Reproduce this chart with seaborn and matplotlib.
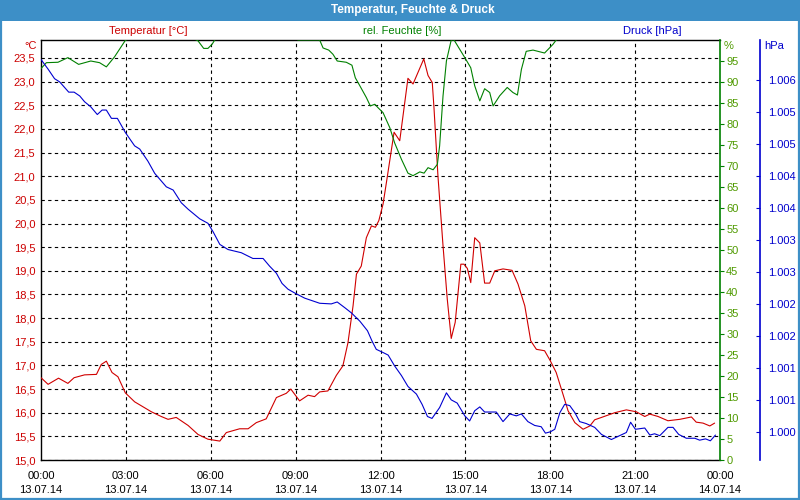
import matplotlib
matplotlib.use("Agg")
import matplotlib.pyplot as plt
import seaborn as sns
import pandas as pd
from matplotlib.patches import Rectangle

# ---------------- data ----------------
temp_hours = [0.00, 0.25, 0.62, 0.95, 1.17, 1.54, 1.96, 2.13, 2.31, 2.51, 2.72, 2.98, 3.31, 3.90,
              4.25, 4.49, 4.78, 5.20, 5.55, 5.90, 6.32, 6.55, 7.02, 7.32, 7.61, 7.96, 8.32, 8.67,
              8.83, 9.14, 9.44, 9.67, 9.85, 10.14, 10.44, 10.67, 10.85, 11.03, 11.15, 11.32, 11.50,
              11.68, 11.82, 11.94, 12.09, 12.21, 12.48, 12.68, 12.97, 13.15, 13.53, 13.68, 13.83,
              13.89, 14.03, 14.21, 14.36, 14.50, 14.64, 14.84, 14.95, 15.07, 15.19, 15.33, 15.51,
              15.68, 15.86, 16.04, 16.33, 16.65, 16.86, 17.10, 17.31, 17.51, 17.80, 18.00, 18.21,
              18.45, 18.63, 18.87, 19.16, 19.40, 19.57, 19.81, 20.28, 20.69, 21.04, 21.34, 21.52,
              21.81, 22.16, 22.58, 22.99, 23.16, 23.40, 23.64, 23.81]
temp_values = [16.74, 16.60, 16.73, 16.62, 16.74, 16.80, 16.81, 17.02, 17.09, 16.85, 16.76, 16.42,
               16.23, 16.02, 15.92, 15.86, 15.90, 15.73, 15.54, 15.44, 15.40, 15.58, 15.66, 15.66,
               15.79, 15.87, 16.32, 16.41, 16.50, 16.25, 16.37, 16.34, 16.44, 16.46, 16.79, 16.99,
               17.48, 18.26, 18.93, 19.10, 19.70, 19.95, 19.92, 20.06, 20.41, 20.87, 21.93, 21.75,
               23.07, 22.95, 23.48, 23.13, 22.98, 22.45, 21.01, 19.53, 18.40, 17.57, 17.91, 19.14,
               19.14, 19.05, 18.75, 19.70, 19.59, 18.74, 18.74, 19.00, 19.04, 19.01, 18.72, 18.26,
               17.52, 17.34, 17.31, 17.10, 16.85, 16.39, 16.04, 15.79, 15.65, 15.72, 15.85, 15.90,
               16.00, 16.06, 16.02, 15.92, 15.97, 15.92, 15.83, 15.86, 15.91, 15.80, 15.78, 15.72,
               15.78]

hum_hours = [0.00, 0.19, 0.60, 0.95, 1.33, 1.76, 2.07, 2.31, 2.60, 2.98, 3.30, 4.20, 5.20, 5.55,
             5.75, 5.90, 6.05, 6.14, 6.40, 7.50, 8.90, 9.08, 9.85, 9.97, 10.17, 10.32, 10.47,
             10.79, 10.99, 11.11, 11.27, 11.50, 11.64, 11.80, 11.91, 12.09, 12.33, 12.50, 12.74,
             12.97, 13.15, 13.39, 13.54, 13.68, 13.86, 14.01, 14.09, 14.21, 14.33, 14.50, 14.60,
             14.98, 15.19, 15.33, 15.51, 15.68, 15.86, 15.98, 16.21, 16.48, 16.68, 16.84, 16.98,
             17.15, 17.39, 17.80, 18.10, 18.21, 18.50, 21.00, 24.00]
hum_values = [93.2, 94.6, 94.7, 95.8, 94.2, 95.0, 94.6, 93.6, 96.0, 99.9, 101.0, 101.0, 101.0, 99.8,
              98.0, 98.0, 99.0, 100.0, 101.0, 101.0, 101.0, 100.0, 100.0, 98.1, 97.6, 96.6, 95.0,
              94.7, 94.0, 91.0, 89.1, 86.3, 84.3, 84.7, 83.9, 82.7, 79.1, 75.5, 71.6, 68.3, 67.7,
              68.6, 68.3, 69.6, 69.1, 70.4, 74.8, 86.7, 95.0, 100.0, 100.0, 95.8, 93.4, 89.1, 85.5,
              88.4, 87.5, 84.3, 86.7, 88.7, 87.5, 86.9, 93.0, 97.3, 97.6, 96.9, 99.0, 100.0, 101.0,
              101.0, 101.0]

pres_hours = [0.00, 0.25, 0.48, 0.66, 0.98, 1.17, 1.37, 1.54, 1.76, 1.99, 2.16, 2.31, 2.49, 2.70,
              2.98, 3.31, 3.49, 3.78, 4.02, 4.43, 4.67, 4.96, 5.20, 5.61, 5.90, 6.08, 6.32, 6.61,
              7.08, 7.49, 7.85, 8.08, 8.32, 8.52, 8.73, 8.97, 9.32, 9.85, 10.26, 10.47, 10.74,
              10.97, 11.27, 11.54, 11.70, 11.85, 12.09, 12.27, 12.50, 12.74, 12.97, 13.27, 13.47,
              13.66, 13.82, 14.09, 14.33, 14.50, 14.71, 14.98, 15.15, 15.33, 15.51, 15.68, 16.09,
              16.33, 16.57, 16.80, 16.98, 17.21, 17.45, 17.68, 17.83, 18.00, 18.16, 18.34, 18.51,
              18.69, 18.87, 19.04, 19.27, 19.57, 19.81, 20.16, 20.69, 20.84, 21.01, 21.34, 21.52,
              21.69, 21.87, 22.16, 22.34, 22.54, 22.81, 23.11, 23.28, 23.49, 23.66, 23.84]
pres_values = [1006.12, 1005.97, 1005.82, 1005.77, 1005.61, 1005.61, 1005.55, 1005.46, 1005.38,
               1005.26, 1005.33, 1005.33, 1005.20, 1005.20, 1004.98, 1004.77, 1004.72, 1004.53,
               1004.34, 1004.13, 1004.08, 1003.88, 1003.78, 1003.63, 1003.56, 1003.43, 1003.23,
               1003.15, 1003.10, 1003.01, 1003.01, 1002.89, 1002.78, 1002.62, 1002.53, 1002.47,
               1002.39, 1002.31, 1002.30, 1002.33, 1002.24, 1002.16, 1002.03, 1001.88, 1001.72,
               1001.59, 1001.54, 1001.50, 1001.33, 1001.18, 1001.01, 1000.89, 1000.73, 1000.54,
               1000.51, 1000.68, 1000.91, 1000.80, 1000.75, 1000.55, 1000.47, 1000.63, 1000.69,
               1000.61, 1000.61, 1000.46, 1000.58, 1000.55, 1000.58, 1000.46, 1000.40, 1000.38,
               1000.28, 1000.30, 1000.34, 1000.60, 1000.73, 1000.71, 1000.60, 1000.46, 1000.43,
               1000.37, 1000.26, 1000.18, 1000.29, 1000.45, 1000.34, 1000.36, 1000.25, 1000.27,
               1000.24, 1000.37, 1000.37, 1000.26, 1000.20, 1000.20, 1000.17, 1000.19, 1000.16,
               1000.25]

x_tick_hours = [0, 3, 6, 9, 12, 15, 18, 21, 24]
x_tick_labels = ["00:00\n13.07.14", "03:00\n13.07.14", "06:00\n13.07.14", "09:00\n13.07.14",
                 "12:00\n13.07.14", "15:00\n13.07.14", "18:00\n13.07.14", "21:00\n13.07.14",
                 "00:00\n14.07.14"]
temp_ticks = [15.0 + 0.5 * i for i in range(18)]
temp_tick_labels = [f"{t:.1f}".replace(".", ",") for t in temp_ticks]
hum_ticks = list(range(0, 100, 5))
pres_ticks = [1000.3 + 0.5 * i for i in range(12)]
pres_tick_labels = ["1.000", "1.001", "1.001", "1.002", "1.002", "1.003", "1.003",
                    "1.004", "1.004", "1.005", "1.005", "1.006"]

# ---------------- style ----------------
sns.set_style("white")
plt.rcParams["font.family"] = ["Liberation Sans", "DejaVu Sans"]
plt.rcParams["font.size"] = 8

RED_LINE = "#d00000"
RED_TXT = "#cc0000"
GREEN_LINE = "#008000"
GREEN_TXT = "#4f9a00"
BLUE_LINE = "#0000d0"
BLUE_TXT = "#0000cc"
BAR = "#3d8fc7"

fig = plt.figure(figsize=(8, 5), dpi=100)
fig.patch.set_facecolor("white")
ax = fig.add_axes([41 / 800, 40 / 500, 679 / 800, 420 / 500])
ax2 = ax.twinx()
ax3 = ax.twinx()

df_t = pd.DataFrame({"h": temp_hours, "v": temp_values})
df_h = pd.DataFrame({"h": hum_hours, "v": hum_values})
df_p = pd.DataFrame({"h": pres_hours, "v": pres_values})

sns.lineplot(data=df_t, x="h", y="v", ax=ax, color=RED_LINE, linewidth=0.8, estimator=None, zorder=5)
sns.lineplot(data=df_h, x="h", y="v", ax=ax2, color=GREEN_LINE, linewidth=0.8, estimator=None)
sns.lineplot(data=df_p, x="h", y="v", ax=ax3, color=BLUE_LINE, linewidth=0.8, estimator=None)

# temperature axis
ax.set_xlim(0, 24)
ax.set_ylim(15.0, 23.88)
ax.set_yticks(temp_ticks, temp_tick_labels)
ax.tick_params(axis="y", length=0, pad=4, labelcolor=RED_TXT, labelsize=8)
ax.set_xticks(x_tick_hours, x_tick_labels)
ax.set_xticks(range(0, 25), minor=True)
ax.tick_params(axis="x", which="both", direction="in", length=3, width=0.8, color="black",
               pad=8, labelsize=8, labelcolor="black")
for lbl in ax.get_xticklabels():
    lbl.set_linespacing(1.45)
ax.set_xlabel("")
ax.set_ylabel("")
for v in temp_ticks:
    ax.axhline(v, color="black", linewidth=0.8, linestyle=(0, (3, 3)), zorder=1)
for h in x_tick_hours[1:-1]:
    ax.axvline(h, color="black", linewidth=0.8, linestyle=(0, (3, 3)), zorder=1)
for s in ["left", "top", "bottom"]:
    ax.spines[s].set_color("black")
    ax.spines[s].set_linewidth(1.0)
ax.spines["right"].set_visible(False)

# humidity axis
ax2.set_ylim(0, 100)
ax2.set_yticks(hum_ticks, [str(v) for v in hum_ticks])
ax2.tick_params(axis="y", direction="out", length=3, width=0.8, color=GREEN_LINE,
                pad=1.5, labelcolor=GREEN_TXT, labelsize=8)
ax2.set_ylabel("")
ax2.spines["right"].set_color(GREEN_LINE)
ax2.spines["right"].set_linewidth(1.2)
for s in ["left", "top", "bottom"]:
    ax2.spines[s].set_visible(False)

# pressure axis
ax3.spines["right"].set_position(("axes", (760 - 41) / 679))
ax3.set_ylim(999.86, 1006.425)
ax3.set_yticks(pres_ticks, pres_tick_labels)
ax3.tick_params(axis="y", direction="in", length=3, width=0.8, color=BLUE_LINE,
                pad=6, labelcolor=BLUE_TXT, labelsize=8)
ax3.set_ylabel("")
ax3.spines["right"].set_color(BLUE_LINE)
ax3.spines["right"].set_linewidth(1.2)
for s in ["left", "top", "bottom"]:
    ax3.spines[s].set_visible(False)

# header / frame
fig.patches.append(Rectangle((0, 1 - 21 / 500), 1, 21 / 500, transform=fig.transFigure,
                             facecolor=BAR, edgecolor="none", zorder=0))
fig.patches.append(Rectangle((0.0015, 0.002), 0.997, 0.996, transform=fig.transFigure,
                             facecolor="none", edgecolor=BAR, linewidth=1.6, zorder=0))
fig.text(413 / 800, 1 - 10.5 / 500, "Temperatur, Feuchte & Druck", color="white",
         fontweight="bold", fontsize=8.5, ha="center", va="center")
fig.text(148 / 800, 1 - 31 / 500, "Temperatur [°C]", color=RED_TXT, ha="center", va="center", fontsize=8)
fig.text(402 / 800, 1 - 31 / 500, "rel. Feuchte [%]", color=GREEN_LINE, ha="center", va="center", fontsize=8)
fig.text(652 / 800, 1 - 31 / 500, "Druck [hPa]", color=BLUE_TXT, ha="center", va="center", fontsize=8)
fig.text(37 / 800, 1 - 46 / 500, "°C", color=RED_TXT, ha="right", va="center", fontsize=8)
fig.text(724 / 800, 1 - 46 / 500, "%", color=GREEN_TXT, ha="left", va="center", fontsize=8)
fig.text(764 / 800, 1 - 46 / 500, "hPa", color=BLUE_TXT, ha="left", va="center", fontsize=8)

fig.savefig("out.png", dpi=100)
